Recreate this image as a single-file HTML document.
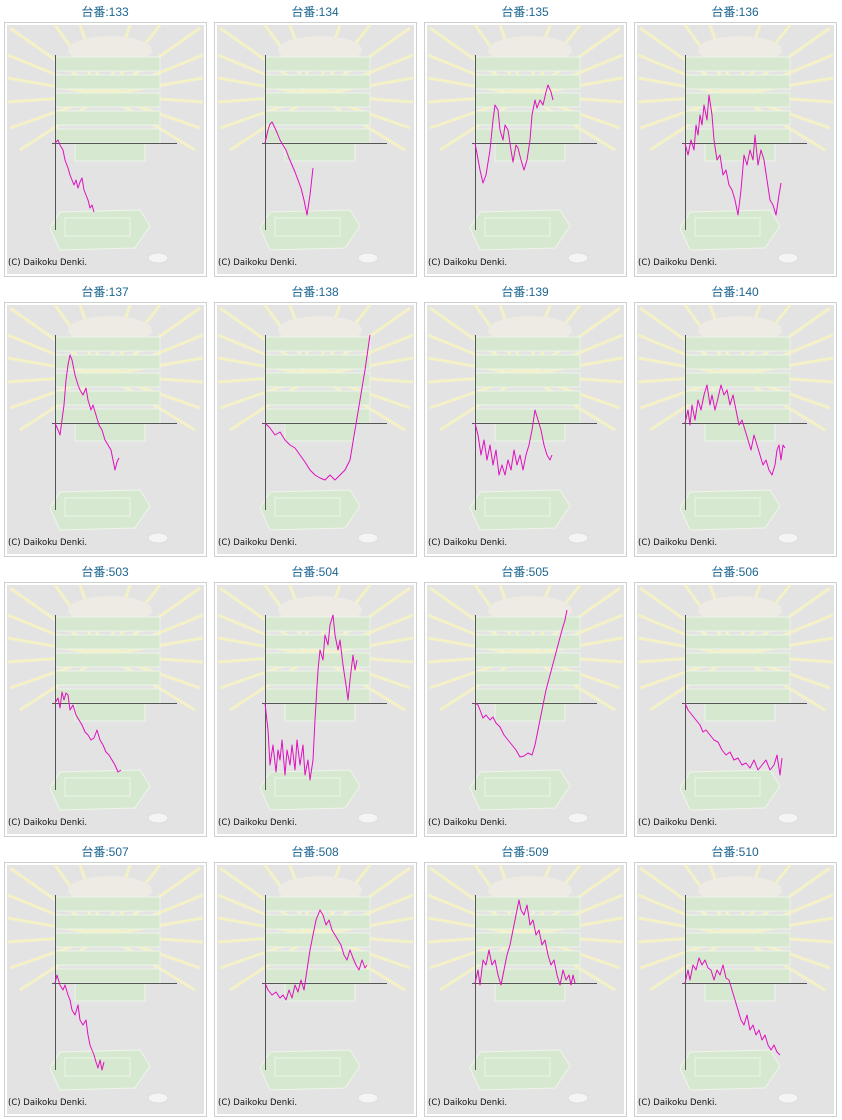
<!DOCTYPE html>
<html><head><meta charset="utf-8"><style>
html,body{margin:0;padding:0;background:#fff;width:842px;height:1120px;overflow:hidden}
svg{display:block}
.t{font-family:"Liberation Sans","Noto Sans CJK JP",sans-serif;font-size:12px;fill:#1d6590}
.c{font-family:"DejaVu Sans","Liberation Sans",sans-serif;font-size:8.5px;fill:#111}
.s{fill:none;stroke:#e010c0;stroke-width:1;stroke-linejoin:round}
</style></head><body>
<svg width="842" height="1120" viewBox="0 0 842 1120" xmlns="http://www.w3.org/2000/svg">
<defs>
<g id="bg">
<rect x="4.5" y="22.5" width="202" height="254" fill="#fff" stroke="#cfcfcf"/>
<rect x="7" y="25" width="197" height="249" fill="#e3e3e3"/>
<g stroke="#f6f3c4" stroke-width="3" opacity="0.9">
<line x1="105" y1="95" x2="10" y2="28"/><line x1="105" y1="95" x2="8" y2="55"/><line x1="105" y1="95" x2="8" y2="78"/>
<line x1="105" y1="95" x2="8" y2="102"/><line x1="105" y1="95" x2="10" y2="128"/><line x1="105" y1="95" x2="20" y2="150"/>
<line x1="105" y1="95" x2="200" y2="28"/><line x1="105" y1="95" x2="203" y2="55"/><line x1="105" y1="95" x2="203" y2="78"/>
<line x1="105" y1="95" x2="203" y2="102"/><line x1="105" y1="95" x2="200" y2="128"/><line x1="105" y1="95" x2="195" y2="150"/>
<line x1="105" y1="95" x2="55" y2="25"/><line x1="105" y1="95" x2="80" y2="25"/><line x1="105" y1="95" x2="130" y2="25"/><line x1="105" y1="95" x2="160" y2="25"/>
</g>
<ellipse cx="110" cy="50" rx="42" ry="14" fill="#eeeae4"/>
<g fill="#d6e8cf" stroke="#eef5ea" stroke-width="1">
<rect x="55" y="57" width="105" height="14"/><rect x="55" y="75" width="105" height="14"/>
<rect x="55" y="93" width="105" height="14"/><rect x="55" y="111" width="105" height="14"/>
<rect x="55" y="129" width="105" height="14"/><rect x="75" y="143" width="70" height="18"/>
<path d="M50 228 L60 212 L140 210 L150 226 L135 248 L60 250 Z"/>
<rect x="65" y="218" width="65" height="18"/>
</g>
<ellipse cx="158" cy="258" rx="10" ry="5" fill="#f4f4f4" stroke="#ddd"/>
<line x1="55.5" y1="55" x2="55.5" y2="230" stroke="#555"/>
<line x1="52" y1="143.5" x2="177" y2="143.5" stroke="#555"/>
<text class="c" x="8" y="265">(C) Daikoku Denki.</text>
</g>
</defs>
<g transform="translate(0,0)"><use href="#bg"/><text class="t" x="105" y="16" text-anchor="middle">台番:133</text>
<polyline class="s" points="55,143 58,140 60,145 63,150 65,160 68,168 70,175 72,180 74,185 76,180 78,188 80,182 82,178 84,190 86,195 88,200 90,208 92,205 94,212"/></g>
<g transform="translate(210,0)"><use href="#bg"/><text class="t" x="105" y="16" text-anchor="middle">台番:134</text>
<polyline class="s" points="55,143 58,130 60,124 62,122 65,128 68,135 70,140 73,145 76,150 79,158 82,165 85,172 88,180 91,188 94,200 97,215 100,195 103,168"/></g>
<g transform="translate(420,0)"><use href="#bg"/><text class="t" x="105" y="16" text-anchor="middle">台番:135</text>
<polyline class="s" points="55,143 60,170 63,183 66,175 70,150 73,120 75,105 78,110 80,130 83,140 85,125 88,130 91,150 93,162 96,145 98,148 101,160 104,170 107,160 110,140 112,115 115,100 117,108 120,100 123,105 126,92 128,85 131,92 133,100"/></g>
<g transform="translate(630,0)"><use href="#bg"/><text class="t" x="105" y="16" text-anchor="middle">台番:136</text>
<polyline class="s" points="55,143 58,155 61,140 64,150 66,125 68,135 70,115 72,125 74,105 77,120 79,95 82,115 84,140 87,160 90,155 93,175 96,170 99,185 102,190 105,200 108,215 111,190 114,155 117,165 120,150 123,160 125,135 128,165 131,150 134,160 137,180 140,200 143,205 146,215 149,195 151,183"/></g>
<g transform="translate(0,280)"><use href="#bg"/><text class="t" x="105" y="16" text-anchor="middle">台番:137</text>
<polyline class="s" points="55,143 58,150 60,155 62,140 64,125 66,100 68,85 70,75 72,80 75,95 78,105 80,110 83,115 86,108 88,120 91,130 93,125 96,135 99,145 102,150 105,160 108,165 111,170 113,180 115,190 117,182 119,178"/></g>
<g transform="translate(210,280)"><use href="#bg"/><text class="t" x="105" y="16" text-anchor="middle">台番:138</text>
<polyline class="s" points="55,143 60,148 65,155 70,152 75,160 80,165 85,168 90,175 95,182 100,190 105,195 110,198 115,200 120,195 125,200 130,195 135,190 140,180 145,150 150,120 155,90 160,55"/></g>
<g transform="translate(420,280)"><use href="#bg"/><text class="t" x="105" y="16" text-anchor="middle">台番:139</text>
<polyline class="s" points="55,143 58,155 61,175 64,160 67,180 70,165 73,185 76,170 79,195 82,185 85,195 88,180 91,190 94,170 97,185 100,175 103,190 106,175 109,165 112,150 115,130 118,140 121,150 124,165 127,175 130,180 132,175"/></g>
<g transform="translate(630,280)"><use href="#bg"/><text class="t" x="105" y="16" text-anchor="middle">台番:140</text>
<polyline class="s" points="55,143 58,130 60,145 62,125 65,140 68,120 71,130 74,115 77,105 80,125 82,115 85,130 88,118 91,105 94,115 97,110 100,125 103,115 106,130 109,145 112,140 115,150 118,160 121,170 124,155 127,165 130,175 133,185 136,180 139,190 142,195 145,185 147,170 149,165 151,180 153,165 155,168"/></g>
<g transform="translate(0,560)"><use href="#bg"/><text class="t" x="105" y="16" text-anchor="middle">台番:503</text>
<polyline class="s" points="55,143 58,138 60,148 62,132 64,140 66,133 68,135 70,150 73,145 76,155 79,160 82,165 85,172 88,175 91,180 94,178 97,170 100,180 103,185 106,192 109,195 112,200 115,205 118,212 121,210"/></g>
<g transform="translate(210,560)"><use href="#bg"/><text class="t" x="105" y="16" text-anchor="middle">台番:504</text>
<polyline class="s" points="55,143 58,170 60,205 63,185 66,212 68,190 70,200 72,180 75,215 77,190 80,205 82,185 85,210 87,180 90,205 93,185 95,215 98,200 100,220 103,200 105,160 108,110 110,90 113,100 115,75 118,85 120,65 123,55 125,75 128,90 130,80 133,105 136,125 138,140 140,120 143,95 145,110 147,100"/></g>
<g transform="translate(420,560)"><use href="#bg"/><text class="t" x="105" y="16" text-anchor="middle">台番:505</text>
<polyline class="s" points="55,143 58,145 60,150 63,158 66,155 70,160 73,157 76,163 80,167 84,175 88,180 92,185 96,190 100,197 104,196 108,193 112,195 115,185 118,170 122,150 126,130 130,115 134,100 138,85 142,70 145,60 147,50"/></g>
<g transform="translate(630,560)"><use href="#bg"/><text class="t" x="105" y="16" text-anchor="middle">台番:506</text>
<polyline class="s" points="55,143 58,150 62,155 66,160 70,165 73,172 76,170 80,175 84,180 88,182 92,190 96,195 100,192 104,200 108,198 112,205 116,203 120,208 124,200 128,210 132,205 136,200 140,210 144,205 147,195 150,215 152,198"/></g>
<g transform="translate(0,840)"><use href="#bg"/><text class="t" x="105" y="16" text-anchor="middle">台番:507</text>
<polyline class="s" points="55,143 57,135 60,145 63,150 65,145 68,155 70,160 72,170 75,175 78,165 80,180 83,185 86,180 88,195 90,205 92,210 94,215 96,222 98,228 100,220 102,230 104,222"/></g>
<g transform="translate(210,840)"><use href="#bg"/><text class="t" x="105" y="16" text-anchor="middle">台番:508</text>
<polyline class="s" points="55,143 58,150 62,155 66,152 70,158 73,155 76,160 79,150 82,158 85,145 88,152 91,140 94,150 97,130 100,110 103,95 106,80 110,70 113,75 116,85 119,80 122,90 125,95 128,100 131,105 134,115 137,120 140,110 143,118 146,125 149,130 152,120 155,128 157,125"/></g>
<g transform="translate(420,840)"><use href="#bg"/><text class="t" x="105" y="16" text-anchor="middle">台番:509</text>
<polyline class="s" points="55,143 58,130 60,145 63,120 66,125 69,110 72,125 75,120 78,135 81,145 84,130 87,115 90,105 93,90 96,75 99,60 101,70 104,75 107,65 110,85 113,80 116,95 119,90 122,105 125,100 128,115 131,125 134,120 137,135 140,145 143,130 146,140 149,135 151,145 153,135 155,143"/></g>
<g transform="translate(630,840)"><use href="#bg"/><text class="t" x="105" y="16" text-anchor="middle">台番:510</text>
<polyline class="s" points="55,143 58,130 60,140 63,125 66,130 69,118 72,125 75,120 78,128 81,130 84,140 87,130 90,135 93,125 96,138 99,140 102,150 105,160 108,170 111,180 114,185 117,175 120,190 123,185 126,195 129,190 132,200 135,195 138,205 141,210 144,205 147,212 150,215"/></g>
</svg>
</body></html>
